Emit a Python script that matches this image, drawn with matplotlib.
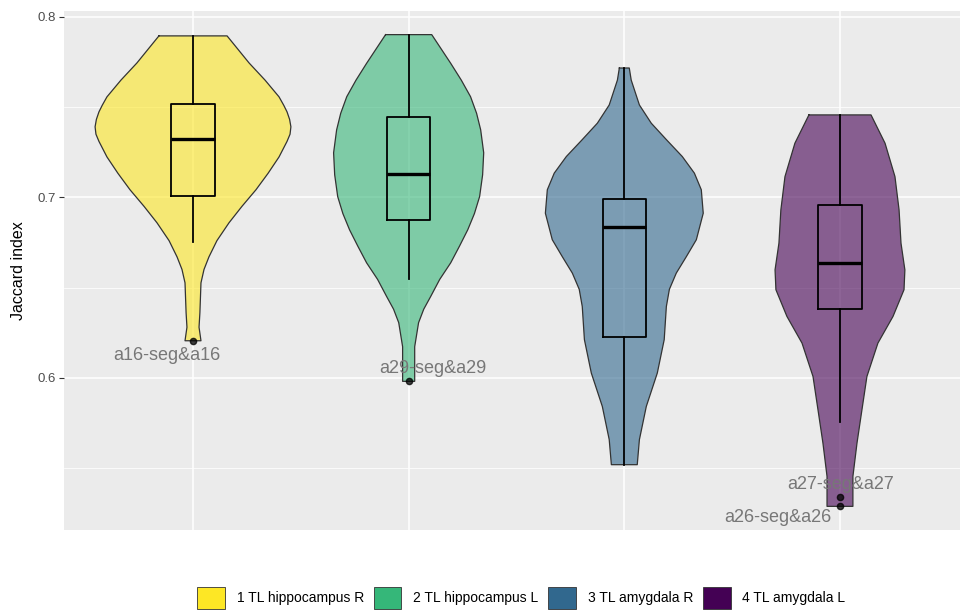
import numpy as np
import matplotlib
matplotlib.use("Agg")
from matplotlib import pyplot as plt
from matplotlib.patches import Patch
from matplotlib.ticker import FixedLocator

plt.rcParams["font.family"] = ["Liberation Sans", "DejaVu Sans"]

GROUPS = ["1 TL hippocampus R", "2 TL hippocampus L", "3 TL amygdala R", "4 TL amygdala L"]
COLORS = ["#FDE725", "#35B779", "#31688E", "#440154"]

# violin outlines: Jaccard value (top to bottom) and density half-width in x units
V1_Y = [0.7895, 0.7745, 0.765, 0.7557, 0.751, 0.7474, 0.7432, 0.7391, 0.735, 0.731,
        0.7224, 0.7133, 0.7042, 0.695, 0.6859, 0.676, 0.667, 0.66, 0.6526, 0.636,
        0.628, 0.6205]
V1_HALF = [0.158, 0.260, 0.334, 0.399, 0.421, 0.436, 0.448, 0.454, 0.450, 0.436,
           0.399, 0.348, 0.292, 0.227, 0.167, 0.111, 0.074, 0.051, 0.037, 0.032,
           0.028, 0.037]

V2_Y = [0.7902, 0.7743, 0.765, 0.7558, 0.7466, 0.7374, 0.7247, 0.7125, 0.7004, 0.691,
        0.682, 0.673, 0.6637, 0.6545, 0.645, 0.638, 0.6305, 0.6172, 0.598]
V2_HALF = [0.107, 0.195, 0.244, 0.287, 0.315, 0.334, 0.348, 0.343, 0.329, 0.305,
           0.274, 0.236, 0.195, 0.144, 0.102, 0.070, 0.046, 0.028, 0.028]

V3_Y = [0.7717, 0.765, 0.7512, 0.7411, 0.732, 0.7226, 0.7134, 0.7042, 0.6912, 0.6765,
        0.667, 0.658, 0.649, 0.6395, 0.6211, 0.6026, 0.5841, 0.5657, 0.5518]
V3_HALF = [0.023, 0.032, 0.070, 0.125, 0.195, 0.269, 0.325, 0.357, 0.366, 0.334,
           0.287, 0.241, 0.209, 0.195, 0.185, 0.153, 0.102, 0.070, 0.060]

V4_Y = [0.7457, 0.73, 0.7115, 0.6931, 0.6746, 0.6598, 0.6488, 0.634, 0.6192, 0.6007,
        0.5823, 0.5638, 0.5453, 0.5287]
V4_HALF = [0.144, 0.209, 0.255, 0.274, 0.283, 0.301, 0.297, 0.246, 0.176, 0.125,
           0.102, 0.079, 0.060, 0.060]

VIOLIN_Y = [V1_Y, V2_Y, V3_Y, V4_Y]
VIOLIN_HALF = [V1_HALF, V2_HALF, V3_HALF, V4_HALF]

# boxplot summaries
BOX_LOW = [0.6755, 0.6547, 0.5518, 0.5752]
BOX_Q1 = [0.701, 0.6875, 0.6225, 0.6382]
BOX_MED = [0.7324, 0.7129, 0.6838, 0.6635]
BOX_Q3 = [0.752, 0.7444, 0.699, 0.6958]
BOX_HIGH = [0.7895, 0.7902, 0.7717, 0.7457]
OUTLIERS = [[0.6205], [0.598], [], [0.5337, 0.5287]]

# outlier labels
LABEL_TEXT = ["a16-seg&a16", "a29-seg&a29", "a27-seg&a27", "a26-seg&a26"]
LABEL_X = [0.878, 2.113, 4.004, 3.712]
LABEL_Y = [0.6122, 0.605, 0.541, 0.5225]

fig = plt.figure(figsize=(9.6, 6.11), dpi=100)
ax = fig.add_axes([0.06625, 0.1326, 0.9435, 0.8494])
ax.set_facecolor("#EBEBEB")

for i, (ys, hs) in enumerate(zip(VIOLIN_Y, VIOLIN_HALF)):
    pos = i + 1
    ys = np.array(ys)
    hs = np.array(hs)
    ax.fill_betweenx(ys, pos - hs, pos + hs, facecolor=COLORS[i], alpha=0.6,
                     edgecolor="none", zorder=2)
    # outline, including flat ends where the violin is trimmed
    xs = np.concatenate([pos - hs, (pos + hs)[::-1], [pos - hs[0]]])
    yy = np.concatenate([ys, ys[::-1], [ys[0]]])
    ax.plot(xs, yy, color="#333333", lw=0.9, zorder=3)

stats = []
for i in range(len(GROUPS)):
    stats.append(dict(med=BOX_MED[i], q1=BOX_Q1[i], q3=BOX_Q3[i],
                      whislo=BOX_LOW[i], whishi=BOX_HIGH[i], fliers=OUTLIERS[i]))

ax.bxp(stats, positions=[1, 2, 3, 4], widths=0.2, showcaps=False,
       patch_artist=False, manage_ticks=False,
       boxprops=dict(color="black", lw=1.3),
       whiskerprops=dict(color="black", lw=1.3),
       medianprops=dict(color="black", lw=2.4),
       flierprops=dict(marker="o", markerfacecolor="black", markeredgecolor="black",
                       markersize=4.5, alpha=0.75),
       zorder=4)

for txt, x, y in zip(LABEL_TEXT, LABEL_X, LABEL_Y):
    ax.text(x, y, txt, ha="center", va="center", fontsize=13, color="#777777", zorder=5)

ax.set_xlim(0.4, 4.6)
ax.set_ylim(0.5156, 0.8033)

ax.yaxis.set_major_locator(FixedLocator([0.6, 0.7, 0.8]))
ax.yaxis.set_minor_locator(FixedLocator([0.55, 0.65, 0.75]))
ax.set_yticklabels(["0.6", "0.7", "0.8"])
ax.xaxis.set_major_locator(FixedLocator([1, 2, 3, 4]))
ax.set_xticklabels([])
ax.tick_params(axis="x", length=0)
ax.tick_params(axis="y", which="major", length=3.5, width=0.8, color="#333333",
               labelsize=9.5, labelcolor="#4D4D4D", pad=2)
ax.tick_params(axis="y", which="minor", length=0)

ax.grid(which="major", color="white", lw=1.1, zorder=0)
ax.grid(which="minor", axis="y", color="white", lw=0.55, zorder=0)
ax.set_axisbelow(True)
for s in ax.spines.values():
    s.set_visible(False)

ax.set_ylabel("Jaccard index", fontsize=11.5, color="black")
ax.yaxis.set_label_coords(-0.0503, 0.5)
ax.yaxis.label.set_verticalalignment("center")

handles = [Patch(facecolor=c, edgecolor="#333333", lw=0.6) for c in COLORS]
fig.legend(handles, GROUPS, loc="center", bbox_to_anchor=(0.543, 1 - 598 / 611),
           ncol=4, frameon=False, fontsize=10, handlelength=2.0, handleheight=2.0,
           handletextpad=0.85, columnspacing=0.7, borderpad=0)

fig.savefig("out.png", dpi=100)
